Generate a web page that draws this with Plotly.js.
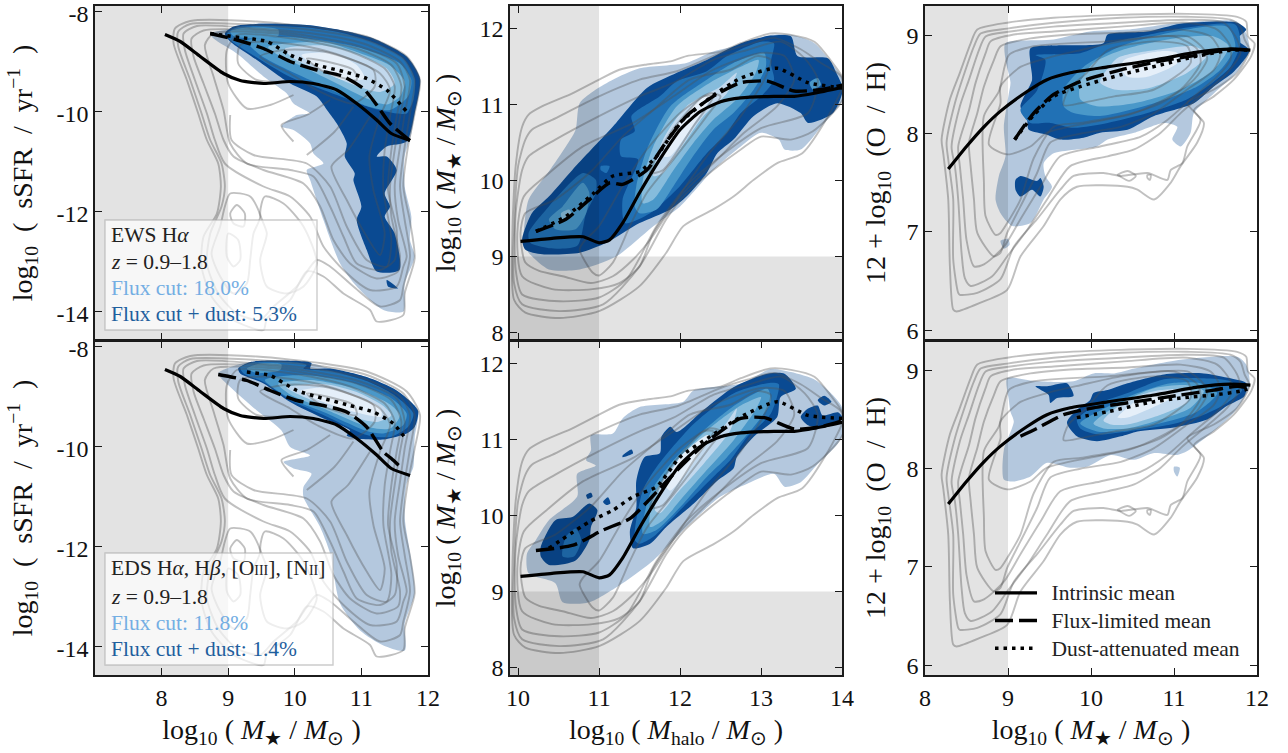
<!DOCTYPE html>
<html><head><meta charset="utf-8"><script src="https://cdn.plot.ly/plotly-3.0.1.min.js"></script>
<style>html,body{margin:0;padding:0;background:#fff}</style></head><body><div id="c"></div>
<script>
// ---------- gray intrinsic contours, sSFR vs stellar mass (flat x,y lists)
const gA1=[8.43,-8.2,8.2,-8.35,8.18,-8.65,8.38,-9.38,8.55,-10.05,8.68,-10.58,8.85,-11.05,8.89,-11.51,8.83,-12.05,8.63,-12.51,8.6,-13.11,8.75,-13.71,9.08,-14.18,9.53,-14.38,9.58,-14.15,9.93,-13.78,10.18,-13.21,10.43,-13.31,10.73,-13.65,11.13,-13.98,11.23,-14.21,11.63,-14.08,11.65,-13.65,11.8,-12.95,11.73,-12.21,11.63,-11.51,11.7,-10.71,11.8,-10.05,11.88,-9.38,11.68,-8.91,11.08,-8.51,10.43,-8.35,9.43,-8.21];
const gA2=[8.43,-8.26,8.25,-8.41,8.25,-8.71,8.43,-9.38,8.6,-10.05,8.73,-10.58,8.9,-11.05,8.95,-11.51,8.9,-11.91,8.73,-12.45,8.68,-13.05,8.85,-13.65,9.13,-14.05,9.48,-14.18,9.68,-13.91,10.03,-13.51,10.33,-12.98,10.53,-13.11,10.88,-13.51,11.28,-13.91,11.58,-13.78,11.63,-13.51,11.73,-12.91,11.65,-12.18,11.58,-11.51,11.65,-10.71,11.73,-10.05,11.8,-9.38,11.63,-8.95,11.08,-8.58,10.43,-8.41,9.43,-8.28];
const gA3=[8.53,-8.3,8.33,-8.45,8.35,-8.78,8.5,-9.38,8.68,-10.05,8.8,-10.58,8.95,-11.05,9.53,-11.51,9.93,-11.71,10.23,-12.11,10.43,-12.71,10.73,-13.18,11.13,-13.58,11.53,-13.51,11.63,-13.11,11.68,-12.91,11.55,-12.18,11.5,-11.51,11.58,-10.71,11.65,-10.05,11.73,-9.38,11.58,-9.01,11.03,-8.65,10.43,-8.48,9.43,-8.35];
const gA4=[8.63,-8.39,8.45,-8.55,8.48,-8.91,8.63,-9.45,8.8,-10.05,8.93,-10.58,9.08,-10.91,9.53,-11.18,10.13,-11.45,10.38,-11.91,10.58,-12.58,10.83,-13.05,11.23,-13.35,11.55,-13.21,11.58,-12.91,11.45,-12.11,11.43,-11.51,11.5,-10.78,11.58,-10.11,11.65,-9.51,11.53,-9.05,10.98,-8.71,10.43,-8.55,9.53,-8.39];
const gA5=[8.78,-8.45,8.65,-8.68,8.78,-9.31,8.93,-9.98,9.03,-10.65,9.28,-11.05,9.93,-11.18,10.28,-11.31,10.53,-11.91,10.73,-12.51,10.93,-13.05,11.28,-13.18,11.5,-12.98,11.53,-12.38,11.4,-11.58,11.45,-10.78,11.53,-10.11,11.6,-9.51,11.45,-9.08,10.93,-8.75,10.43,-8.61,9.73,-8.45];
const gA6=[9.03,-10.08,9.05,-10.58,9.38,-10.88,10.18,-11.05,10.53,-11.51,10.78,-12.31,11.08,-12.98,11.38,-13.11,11.45,-12.58,11.33,-11.58,11.35,-10.78,11.43,-10.11,11.5,-9.51,11.35,-9.15,10.83,-8.81,10.23,-8.61,9.53,-8.48,9.13,-8.48,8.98,-8.78,9.0,-9.45,9.28,-9.95,9.63,-9.88,9.98,-9.68];
const gA7=[9.98,-10.61,9.8,-10.28,10.18,-10.08,10.53,-9.78];
const gA8=[10.18,-10.88,10.6,-10.41,10.88,-9.91];
const gA9=[11.13,-10.11,10.8,-10.78,10.55,-11.11,10.78,-11.78,11.08,-12.51,11.28,-12.88,11.35,-12.45,11.18,-11.58,11.12,-10.91,11.28,-10.11,11.43,-9.58,11.28,-9.25,10.73,-8.91,10.18,-8.71,9.53,-8.61,9.18,-8.68,9.15,-9.05,9.43,-9.38,9.93,-9.41];
const gA10=[9.83,-8.78,10.43,-8.81,11.18,-9.18,11.2,-9.51,10.88,-9.85,10.33,-9.58,9.93,-9.25,9.48,-8.91];
const gA11=[10.18,-8.95,10.88,-9.18,10.93,-9.38,10.43,-9.21];
const iA1=[9.03,-11.65,9.33,-11.71,9.48,-12.11,9.38,-12.45,9.33,-12.98,9.28,-13.45,9.08,-13.65,8.88,-13.31,8.75,-12.85,8.88,-12.31,8.95,-11.91];
const iA2=[9.13,-11.88,9.25,-12.05,9.23,-12.31,9.08,-12.25,9.03,-12.05];
const iA3=[9.55,-11.71,9.83,-11.85,10.13,-12.31,10.33,-13.05,10.13,-13.51,9.88,-13.65,9.58,-13.51,9.48,-12.98,9.58,-12.45,9.48,-12.05];
const iA4=[9.0,-12.45,9.15,-12.58,9.18,-12.98,9.08,-13.11,8.98,-12.91];
// ---------- gray contours, stellar mass vs halo mass
const gB1=[10.13,10.87,10.3,10.98,10.67,11.15,11.0,11.33,11.25,11.46,11.59,11.53,11.88,11.57,12.08,11.64,12.5,11.7,12.75,11.81,13.12,11.94,13.37,11.92,13.66,11.83,13.87,11.57,14.01,11.35,14.01,11.24,13.83,10.85,13.51,10.36,13.2,10.23,12.91,10.01,12.66,9.79,12.41,9.62,12.04,9.4,11.83,9.05,11.5,8.61,11.0,8.28,10.51,8.19,10.09,8.26,9.95,8.43,9.93,9.31,9.97,10.19,10.05,10.71];
const gB2=[10.17,10.67,10.42,10.8,11.0,11.11,11.5,11.33,11.96,11.44,12.5,11.68,12.83,11.79,13.16,11.88,13.49,11.73,13.74,11.55,13.99,11.37,14.01,11.07,13.64,10.65,13.37,10.54,13.0,10.58,12.75,10.41,12.41,10.14,12.04,9.79,11.83,9.49,11.5,8.87,11.05,8.37,10.51,8.28,10.05,8.37,9.95,8.65,9.95,9.31,10.0,10.19,10.09,10.54];
const gB3=[10.13,10.32,10.46,10.54,11.0,10.85,11.5,11.11,11.92,11.29,12.41,11.59,12.83,11.72,13.24,11.83,13.54,11.61,13.7,11.33,13.58,10.89,13.0,10.69,12.5,10.32,12.08,9.93,11.71,9.4,11.34,8.7,11.0,8.46,10.51,8.41,10.05,8.5,9.97,8.83,9.97,9.57,10.05,10.14];
const gB4=[10.07,9.79,10.34,10.06,10.8,10.45,11.42,10.76,11.92,11.11,12.41,11.46,13.0,11.68,13.29,11.64,13.41,11.33,13.2,10.98,12.79,10.63,12.46,10.28,12.0,9.79,11.67,9.31,11.5,8.87,11.25,8.65,10.92,8.57,10.42,8.57,10.05,8.74,9.99,9.31];
const gB5=[10.09,9.57,10.46,9.75,10.92,10.14,11.29,10.58,11.67,10.93,12.12,11.33,12.62,11.46,12.95,11.64,13.12,11.59,13.04,11.33,12.75,10.85,12.33,10.32,11.96,9.75,11.63,9.22,11.42,8.96,11.17,8.74,10.9,8.65,10.55,8.74,10.26,8.81,10.09,8.92,10.03,9.31];
const gB6=[10.76,9.09,10.92,8.79,11.0,8.75,11.17,8.92,11.38,9.4,11.59,9.84,11.92,10.28,12.33,10.85,12.5,11.11,12.37,11.15,12.0,10.89,11.59,10.41,11.29,9.93,11.0,9.4,10.8,9.18];
const gB7=[11.63,10.1,11.88,10.63,12.29,11.11,12.41,11.11,12.16,10.71,11.79,10.14];
// ---------- gray contours, metallicity vs stellar mass
const gC1=[8.34,6.21,8.3,6.65,8.28,7.33,8.22,7.8,8.2,7.94,8.3,8.35,8.42,8.62,8.55,8.92,8.63,9.06,8.99,9.13,9.55,9.18,10.36,9.21,11.16,9.22,11.76,9.19,11.87,9.14,11.89,8.99,11.97,8.92,11.93,8.79,11.72,8.55,11.48,8.38,11.24,8.24,11.36,8.11,11.28,7.91,11.08,7.67,10.96,7.5,10.76,7.33,10.56,7.43,10.44,7.46,9.83,7.46,9.63,7.33,9.43,7.06,9.15,6.75,8.99,6.41,8.67,6.28,8.38,6.19];
const gC2=[8.4,6.38,8.34,6.72,8.34,7.33,8.28,7.74,8.26,7.91,8.36,8.31,8.46,8.58,8.59,8.89,8.67,9.02,8.99,9.07,9.55,9.13,10.36,9.18,11.16,9.19,11.68,9.16,11.8,9.09,11.85,8.96,11.91,8.85,11.76,8.62,11.48,8.45,11.16,8.31,11.32,8.14,11.16,7.87,11.1,7.7,10.96,7.63,10.92,7.53,10.68,7.6,10.36,7.57,10.15,7.6,9.79,7.57,9.63,7.43,9.35,7.13,9.07,6.85,8.91,6.52,8.63,6.38,8.42,6.36];
const gC3=[8.48,6.53,8.44,6.79,8.4,7.33,8.36,7.67,8.32,7.87,8.42,8.28,8.53,8.55,8.65,8.85,8.73,8.99,9.03,9.04,9.55,9.09,10.36,9.13,11.16,9.16,11.6,9.13,11.76,8.96,11.8,8.82,11.64,8.62,11.36,8.41,11.08,8.21,10.84,8.01,10.52,7.84,10.2,7.77,9.75,7.67,9.47,7.33,9.23,7.02,8.99,6.75,8.81,6.55,8.55,6.45];
const gC4=[8.59,6.65,8.5,6.92,8.46,7.33,8.42,7.67,8.4,7.87,8.53,8.24,8.61,8.52,8.73,8.82,8.79,8.94,9.07,9.01,9.55,9.04,10.36,9.09,11.16,9.13,11.52,9.06,11.68,8.89,11.68,8.75,11.52,8.58,11.24,8.38,10.92,8.14,10.6,7.97,10.11,7.87,9.63,7.77,9.39,7.46,9.15,7.13,8.95,6.85,8.71,6.67];
const gC5=[8.83,6.75,8.63,6.99,8.59,7.33,8.55,7.67,8.53,7.91,8.63,8.21,8.71,8.48,8.83,8.75,8.91,8.89,9.27,8.97,9.75,9.01,10.44,9.03,11.08,9.06,11.44,8.99,11.56,8.82,11.48,8.65,11.16,8.45,10.76,8.21,10.36,8.07,9.87,8.0,9.51,7.91,9.35,7.6,9.15,7.26,8.99,6.99,8.91,6.79];
const gC6=[8.85,6.97,8.73,7.16,8.71,7.5,8.71,8.18,8.89,8.43,9.01,8.8,9.31,8.89,10.2,8.94,11.16,8.99,11.36,8.86,11.4,8.76,11.24,8.55,10.84,8.31,10.36,8.18,9.87,8.11,9.55,8.07,9.31,7.75,9.15,7.33,8.99,7.09,8.91,6.99];
const gC7=[8.77,7.89,8.99,7.79,9.27,7.87,9.47,8.01,10.52,8.21,11.08,8.45,11.32,8.72,11.28,8.86,11.0,8.99,10.36,8.94,9.87,8.85,9.47,8.77,9.15,8.68,8.91,8.48,8.91,8.31];
const gC8=[10.2,8.85,10.76,8.94,11.16,8.89,11.2,8.72,10.76,8.45,10.28,8.38,9.87,8.31,9.67,8.29,9.73,8.45,9.95,8.62];
const gC9=[10.32,7.58,10.44,7.62,10.54,7.57,10.46,7.52,10.34,7.57];
const gC10=[10.68,7.58,10.72,7.58,10.71,7.53,10.68,7.55];
// ---------- blue density levels, panel a (EWS sSFR)
const aT0=[8.73,-8.45,8.98,-8.37,9.43,-8.25,10.18,-8.28,10.68,-8.38,11.18,-8.55,11.68,-8.91,11.88,-9.35,11.8,-10.05,11.75,-10.45,11.65,-10.91,11.65,-11.51,11.75,-12.11,11.73,-12.58,11.8,-12.91,11.65,-13.45,11.63,-14.01,11.33,-13.98,10.93,-13.51,10.68,-13.05,10.43,-12.18,10.23,-11.38,10.18,-11.18,10.43,-11.05,10.28,-10.85,10.23,-10.65,9.98,-10.38,9.8,-10.31,10.03,-10.08,10.23,-10.05,9.98,-9.85,9.88,-9.65,9.53,-9.31,9.13,-8.85,8.78,-8.55];
const aT1=[8.95,-8.45,9.08,-8.31,9.43,-8.26,10.18,-8.28,10.68,-8.38,11.18,-8.55,11.68,-8.91,11.88,-9.35,11.8,-10.05,11.68,-10.61,11.38,-10.71,11.23,-10.91,11.38,-10.91,11.53,-11.18,11.35,-11.65,11.43,-11.91,11.35,-12.11,11.5,-12.45,11.57,-13.18,11.23,-13.21,11.08,-12.78,10.93,-12.18,11.0,-11.91,10.88,-11.38,10.9,-11.25,10.75,-10.91,10.78,-10.65,10.63,-10.25,10.5,-10.01,10.33,-9.71,9.93,-9.45,9.43,-8.98,9.03,-8.61];
const aT1b=[11.38,-13.38,11.55,-13.55,11.4,-13.51];
const aT2=[8.98,-8.45,9.13,-8.33,9.63,-8.3,10.18,-8.33,10.68,-8.43,11.18,-8.63,11.63,-8.95,11.8,-9.35,11.78,-9.78,11.68,-10.05,11.53,-10.05,11.18,-9.95,10.83,-9.78,10.43,-9.58,9.93,-9.32,9.43,-8.93,9.03,-8.58];
const aT3=[9.28,-8.6,9.93,-8.52,10.93,-8.72,11.58,-9.05,11.75,-9.38,11.7,-9.71,11.43,-9.98,11.08,-9.9,10.43,-9.5,9.93,-9.2,9.48,-8.88];
const aT3b=[9.03,-8.41,9.28,-8.33,9.75,-8.37,9.75,-8.5,9.38,-8.55,9.08,-8.5];
const aT4=[9.6,-8.72,10.43,-8.62,10.93,-8.82,11.43,-9.09,11.65,-9.41,11.58,-9.71,11.38,-9.87,11.08,-9.75,10.63,-9.45,10.13,-9.12,9.75,-8.88];
const aT5=[9.85,-8.76,10.43,-8.69,10.93,-8.86,11.38,-9.15,11.5,-9.45,11.28,-9.62,10.93,-9.5,10.43,-9.22,9.98,-8.95];
const aT6=[10.1,-8.88,10.53,-8.84,10.93,-9.08,11.05,-9.35,10.73,-9.38,10.4,-9.18];
// ---------- panel d (EDS sSFR)
const dT0=[8.85,-8.55,9.15,-8.37,9.53,-8.29,10.23,-8.34,10.53,-8.45,11.08,-8.62,11.53,-8.89,11.85,-9.29,11.8,-9.82,11.78,-10.42,11.68,-10.75,11.65,-11.42,11.75,-12.29,11.8,-12.95,11.65,-13.55,11.65,-14.09,11.33,-13.99,10.98,-13.69,10.68,-13.15,10.53,-12.15,10.38,-11.62,10.13,-11.02,10.13,-10.82,10.25,-10.55,9.98,-10.45,9.83,-10.32,10.23,-10.19,9.93,-10.02,9.8,-9.69,9.43,-9.29,9.03,-8.82];
const dT1=[9.15,-8.45,9.33,-8.32,9.73,-8.29,10.25,-8.34,10.23,-8.45,10.53,-8.45,11.08,-8.62,11.53,-8.89,11.85,-9.29,11.8,-9.62,11.68,-9.75,11.33,-9.87,10.93,-9.85,10.78,-9.79,10.83,-9.69,10.43,-9.45,9.93,-9.12,9.53,-8.75,9.18,-8.55];
const dT2=[9.18,-8.43,9.38,-8.33,10.03,-8.33,10.18,-8.38,10.13,-8.45,10.53,-8.5,11.08,-8.7,11.48,-8.97,11.78,-9.35,11.7,-9.62,11.43,-9.82,11.08,-9.78,10.43,-9.38,9.93,-9.08,9.53,-8.72,9.23,-8.55];
const dT3=[9.55,-8.68,10.13,-8.58,10.83,-8.72,11.43,-9.03,11.68,-9.35,11.63,-9.58,11.33,-9.75,11.08,-9.7,10.43,-9.32,9.93,-9.05];
const dT3b=[9.28,-8.45,9.48,-8.35,9.8,-8.37,9.78,-8.48,9.43,-8.54];
const dT4=[9.75,-8.76,10.23,-8.68,10.93,-8.86,11.43,-9.17,11.58,-9.39,11.43,-9.65,11.13,-9.63,10.43,-9.25,9.93,-8.97];
const dT5=[9.88,-8.83,10.43,-8.76,10.93,-8.92,11.33,-9.2,11.45,-9.39,11.23,-9.52,10.83,-9.4,10.33,-9.13];
const dT6=[10.08,-8.9,10.43,-8.83,10.88,-8.97,11.28,-9.23,11.3,-9.41,10.93,-9.33,10.43,-9.12];
// ---------- panel b (EWS stellar-halo)
const bT0=[10.07,9.31,10.13,9.75,10.38,10.12,10.59,10.45,10.71,10.67,10.76,11.02,10.96,11.2,11.17,11.33,11.5,11.48,12.08,11.55,12.41,11.7,12.83,11.81,13.12,11.92,13.37,11.92,13.66,11.81,13.87,11.55,14.01,11.33,14.01,11.07,13.78,10.76,13.49,10.41,13.29,10.41,13.22,10.54,13.0,10.63,12.75,10.45,12.41,10.14,12.0,9.66,11.67,9.4,11.21,9.0,10.76,8.83,10.38,8.83,10.13,9.05,10.07,9.18];
const bT1=[10.05,9.22,10.17,9.57,10.38,9.79,10.67,10.14,11.02,10.54,11.21,10.76,11.59,11.22,11.96,11.42,12.33,11.59,12.75,11.81,13.12,11.91,13.37,11.9,13.45,11.64,13.83,11.61,13.93,11.42,14.01,11.2,13.89,10.89,13.58,10.76,13.49,10.89,13.2,11.02,12.91,10.85,12.66,10.54,12.46,10.36,12.33,10.1,12.08,9.79,11.88,9.62,11.5,9.44,11.09,9.18,10.76,9.05,10.3,9.03,10.09,9.09];
const bT2a=[10.13,9.31,10.38,9.66,10.8,10.1,10.96,10.01,10.96,9.84,10.84,9.57,10.73,9.14,10.38,9.11,10.15,9.18];
const bT2b=[11.4,10.85,11.75,11.11,11.96,11.31,12.33,11.44,12.58,11.64,13.0,11.83,13.16,11.81,13.12,11.55,13.16,11.33,13.0,11.11,12.75,10.89,12.58,10.63,12.33,10.36,12.0,9.93,11.63,9.57,11.32,9.44,11.29,9.75,11.48,10.28,11.27,10.32,11.27,10.54,11.44,10.65];
const bT2c=[11.02,10.19,11.13,10.19,11.09,10.1,11.02,10.14];
const bT3a=[10.38,9.49,10.55,9.66,10.8,9.97,10.88,9.84,10.84,9.57,10.71,9.36,10.46,9.36];
const bT3b=[11.44,9.66,11.46,9.93,11.59,10.41,11.88,10.98,12.33,11.33,12.66,11.55,13.04,11.68,13.06,11.5,12.91,11.2,12.66,10.89,12.41,10.67,12.16,10.32,11.92,9.93,11.71,9.62,11.5,9.57];
const bT3c=[13.6,11.29,13.7,11.35,13.74,11.26,13.64,11.2];
const bT4a=[10.53,9.57,10.63,9.62,10.67,9.53,10.55,9.49];
const bT4=[11.54,9.7,11.54,10.0,11.67,10.45,11.96,10.98,12.37,11.29,12.75,11.5,12.97,11.59,12.93,11.41,12.7,11.07,12.41,10.8,12.16,10.49,11.92,10.14,11.67,9.75];
const bT5=[11.67,10.06,11.79,10.54,12.08,10.98,12.5,11.24,12.7,11.42,12.58,11.15,12.29,10.85,12.0,10.41,11.79,10.1];
const bT6=[11.79,10.32,11.96,10.71,12.25,11.07,12.41,11.15,12.29,10.93,12.04,10.54,11.88,10.32];
// ---------- panel e (EDS stellar-halo)
const eT0=[10.11,9.5,10.22,9.68,10.38,9.94,10.73,10.25,10.73,10.55,10.96,10.66,10.84,10.73,10.9,10.86,10.9,11.06,11.17,11.08,11.29,11.28,11.5,11.43,12.04,11.5,12.17,11.65,12.75,11.74,13.12,11.93,13.37,11.89,13.68,11.78,13.99,11.45,14.03,11.12,13.95,10.95,13.7,10.68,13.49,10.44,13.29,10.38,13.16,10.55,12.83,10.42,12.5,10.25,12.08,9.85,11.67,9.41,11.29,9.11,10.88,8.86,10.55,8.86,10.46,9.11,10.13,9.24];
const eT1=[11.38,9.79,11.46,10.11,11.46,10.46,11.56,10.77,11.75,10.82,11.77,11.04,11.88,11.17,11.96,11.1,12.29,11.39,12.66,11.69,13.08,11.87,13.29,11.87,13.43,11.67,13.24,11.56,13.2,11.3,12.91,11.04,12.7,10.77,12.66,10.62,12.46,10.46,12.17,10.16,11.83,9.85,11.63,9.63,11.42,9.57];
const eT1b=[10.28,9.59,10.46,9.94,10.67,9.98,10.88,10.16,10.98,10.07,10.9,9.85,10.88,9.68,10.71,9.41,10.38,9.35,10.28,9.46];
const eT1c=[13.49,11.3,13.58,11.41,13.7,11.45,13.76,11.32,13.95,11.36,14.01,11.28,13.7,11.17,13.58,11.19];
const eT1d=[13.7,11.52,13.78,11.58,13.87,11.5,13.78,11.45];
const eT1e=[10.84,10.27,10.9,10.3,10.92,10.25,10.86,10.22];
const eT1f=[11.05,10.18,11.11,10.24,11.14,10.16,11.09,10.14];
const eT1g=[11.29,10.79,11.4,10.87,11.42,10.82,11.29,10.77];
const eT2=[11.44,9.68,11.54,10.33,11.71,10.64,12.17,11.21,12.66,11.61,13.12,11.75,13.22,11.73,13.12,11.34,12.83,11.04,12.62,10.73,12.41,10.51,12.08,10.16,11.67,9.72,11.5,9.63];
const eT2b=[10.55,9.46,10.59,9.72,10.71,9.83,10.78,9.68,10.69,9.46];
const eT3=[11.54,9.76,11.63,10.29,11.88,10.68,12.29,11.12,12.7,11.47,13.08,11.67,13.12,11.5,12.91,11.17,12.58,10.77,12.33,10.51,12.0,10.11,11.71,9.81];
const eT4=[11.63,9.85,11.67,10.25,11.92,10.68,12.33,11.12,12.75,11.45,13.0,11.56,12.93,11.39,12.66,10.99,12.33,10.6,12.04,10.25,11.79,9.94];
const eT5=[11.69,10.07,11.79,10.46,12.08,10.82,12.5,11.12,12.7,11.41,12.62,11.12,12.29,10.68,11.96,10.29,11.75,10.03];
const eT6=[11.83,10.38,12.0,10.77,12.33,11.06,12.37,11.04,12.21,10.77,12.0,10.46,11.88,10.33];
// ---------- panel c (EWS metallicity)
const cT0=[8.97,8.92,9.55,8.96,9.99,9.04,10.44,9.06,11.08,9.13,11.76,9.14,11.87,9.02,11.91,8.85,11.76,8.63,11.48,8.41,11.24,8.21,11.2,8.01,11.08,7.87,10.98,7.94,11.04,8.07,10.88,8.11,10.52,8.01,10.2,7.94,10.07,7.87,9.55,7.8,9.43,7.7,9.45,7.57,9.53,7.46,9.43,7.33,9.27,7.09,9.05,7.06,8.91,7.19,8.85,7.33,8.89,7.57,8.97,7.77,8.95,8.07,9.01,8.41,9.03,8.52,8.97,8.75];
const cT0b=[8.91,6.91,9.0,6.93,9.02,6.87,8.95,6.83];
const cT1=[9.27,8.87,9.63,8.9,10.15,8.92,10.2,9.01,10.68,9.04,11.08,9.12,11.76,9.13,11.87,9.06,11.76,8.96,11.91,8.85,11.72,8.63,11.48,8.48,11.24,8.31,10.76,8.18,10.44,8.04,10.11,8.01,9.91,7.96,9.63,7.94,9.47,7.99,9.25,8.04,9.23,8.14,9.15,8.28,9.29,8.55,9.27,8.72];
const cT1b=[9.09,7.53,9.15,7.57,9.35,7.52,9.39,7.55,9.43,7.46,9.39,7.36,9.29,7.43,9.15,7.36,9.09,7.43];
const cT2=[9.33,8.8,9.87,8.82,10.2,8.92,10.6,8.99,11.16,9.08,11.74,9.11,11.8,8.92,11.68,8.68,11.4,8.48,11.16,8.35,10.68,8.21,10.2,8.11,9.79,8.06,9.51,8.11,9.27,8.11,9.15,8.24,9.35,8.44,9.45,8.75];
const cT3=[9.91,8.68,10.36,8.89,10.96,9.03,11.64,9.09,11.74,8.89,11.56,8.65,11.28,8.48,10.76,8.31,10.11,8.18,9.79,8.21,9.67,8.28,9.67,8.45];
const cT4=[10.03,8.72,10.4,8.86,11.0,8.97,11.48,8.99,11.66,8.89,11.48,8.65,11.08,8.45,10.52,8.31,10.07,8.28,9.87,8.35,9.87,8.52];
const cT5=[10.32,8.77,10.76,8.85,11.24,8.89,11.4,8.8,11.16,8.62,10.68,8.46,10.28,8.45,10.11,8.52];
const cT6=[10.4,8.75,10.84,8.84,11.04,8.82,11.04,8.72,10.68,8.58,10.44,8.58,10.36,8.67];
// ---------- panel f (EDS metallicity)
const fT0=[8.99,8.92,9.35,8.89,9.79,8.89,10.03,8.97,10.28,8.97,10.52,9.02,11.08,9.11,11.76,9.14,11.87,9.06,11.91,8.84,11.72,8.57,11.4,8.33,11.16,8.18,11.04,8.14,10.76,8.16,10.52,8.09,10.24,8.14,9.95,8.02,9.75,8.01,9.47,8.06,9.27,7.92,9.07,7.87,8.95,7.89,8.95,8.19,9.07,8.48,9.03,8.58,9.01,8.7];
const fT0b=[11.0,8.02,11.07,8.01,11.04,7.92,11.0,7.97];
const fT1=[10.03,8.77,10.2,8.8,10.44,8.87,10.88,8.96,11.36,8.97,11.68,8.92,11.87,8.87,11.85,8.74,11.64,8.64,11.4,8.5,11.0,8.42,10.56,8.38,10.36,8.33,10.07,8.28,9.83,8.33,9.71,8.47,9.83,8.6,9.99,8.7];
const fT1b=[9.33,8.84,9.47,8.84,9.71,8.87,9.79,8.74,9.59,8.72,9.51,8.67,9.49,8.75];
const fT2=[9.83,8.5,10.11,8.67,10.44,8.77,10.88,8.91,11.36,8.92,11.68,8.89,11.82,8.8,11.64,8.67,11.36,8.55,10.96,8.45,10.44,8.38,10.07,8.35,9.87,8.41];
const fT3=[9.87,8.46,10.2,8.63,10.56,8.77,10.96,8.87,11.32,8.87,11.52,8.77,11.28,8.58,10.92,8.48,10.44,8.39,10.07,8.38];
const fT4=[10.03,8.46,10.36,8.67,10.76,8.82,11.16,8.85,11.36,8.79,11.2,8.62,10.84,8.5,10.44,8.41,10.15,8.41];
const fT5=[10.15,8.49,10.44,8.7,10.84,8.8,11.2,8.8,11.16,8.68,10.84,8.55,10.44,8.45,10.24,8.45];
const fT6=[10.32,8.52,10.6,8.72,10.96,8.79,11.0,8.74,10.76,8.63,10.44,8.52];
// ---------- mean relations
const meanA=[8.05,-8.47,8.28,-8.61,8.58,-8.91,8.93,-9.25,9.18,-9.39,9.53,-9.45,9.93,-9.41,10.28,-9.45,10.63,-9.58,10.93,-9.85,11.23,-10.18,11.45,-10.45,11.73,-10.59];
const fluxA1=[8.73,-8.45,9.13,-8.58,9.53,-8.75,9.93,-9.01,10.33,-9.18,10.73,-9.31,11.03,-9.55,11.23,-9.88,11.43,-10.25,11.73,-10.59];
const dustA1=[8.73,-8.45,9.18,-8.53,9.58,-8.61,9.93,-8.88,10.33,-9.08,10.73,-9.21,11.08,-9.35,11.38,-9.58,11.68,-10.01];
const fluxA2=[8.85,-8.57,9.28,-8.69,9.63,-8.89,10.03,-9.09,10.43,-9.19,10.78,-9.32,11.08,-9.62,11.33,-10.12,11.45,-10.25,11.58,-10.41];
const dustA2=[9.28,-8.52,9.63,-8.59,10.03,-8.89,10.43,-9.05,10.83,-9.19,11.18,-9.32,11.48,-9.55,11.65,-9.83];
const meanB=[10.03,9.2,10.42,9.24,10.8,9.26,11.0,9.18,11.13,9.22,11.29,9.44,11.5,9.84,11.75,10.28,12.0,10.67,12.25,10.91,12.5,11.04,12.75,11.09,13.16,11.11,13.41,11.11,13.66,11.15,14.01,11.23];
const fluxB1=[10.22,9.33,10.59,9.49,10.88,9.75,11.13,9.97,11.29,9.95,11.59,10.14,11.79,10.45,12.08,10.85,12.41,11.11,12.75,11.29,13.08,11.31,13.41,11.18,13.74,11.2,14.01,11.26];
const dustB1=[10.22,9.33,10.59,9.53,10.92,9.82,11.17,10.06,11.5,10.12,11.71,10.32,12.0,10.76,12.37,11.09,12.75,11.35,13.2,11.48,13.58,11.29,14.01,11.22];
const fluxB2=[10.22,9.54,10.68,9.61,11.05,9.81,11.38,9.96,11.63,10.22,11.92,10.55,12.33,10.97,12.75,11.28,13.04,11.29,13.41,11.14,13.74,11.17,14.01,11.25];
const dustB2=[10.38,9.57,10.88,9.92,11.17,10.07,11.42,10.25,11.71,10.38,12.0,10.77,12.37,11.04,12.75,11.3,13.2,11.5,13.58,11.32,14.01,11.28];
const meanC=[8.28,7.64,8.5,7.87,8.71,8.07,8.91,8.23,9.23,8.43,9.47,8.55,9.75,8.62,10.2,8.68,10.76,8.75,11.28,8.83,11.68,8.86,11.92,8.85];
const fluxC1=[9.08,7.94,9.31,8.21,9.55,8.4,9.87,8.53,10.36,8.65,10.84,8.74,11.28,8.8,11.68,8.86,11.92,8.85];
const dustC1=[9.08,7.94,9.31,8.19,9.55,8.38,9.87,8.48,10.36,8.6,10.84,8.7,11.28,8.79,11.68,8.85,11.92,8.85];
const fluxC2=[9.15,8.33,9.35,8.41,9.67,8.55,10.03,8.62,10.52,8.68,11.08,8.75,11.48,8.8,11.76,8.84,11.92,8.82];
const dustC2=[9.83,8.52,10.2,8.58,10.68,8.67,11.08,8.72,11.48,8.75,11.8,8.79,11.92,8.82];
// ---------- ticks, labels, cuts
const ssfrTicks=[-8,-10,-12,-14], ssfrLabels=['-8','-10','-12','-14'];
const starTicks=[8,9,10,11,12], haloTicks=[10,11,12,13,14], metTicks=[8,9,10,11,12];
const massCut=9, haloCut=11, smCut=9;
const labelsTop=['EWS H<i>α</i>','<i>z</i> = 0.9–1.8','Flux cut: 18.0%','Flux cut + dust: 5.3%'];
const labelsBot=['EDS H<i>α</i>, H<i>β</i>, [O<span style="font-size:14px">III</span>], [N<span style="font-size:14px">II</span>]','<i>z</i> = 0.9–1.8','Flux cut: 11.8%','Flux cut + dust: 1.4%'];
const legendNames=['Intrinsic mean','Flux-limited mean','Dust-attenuated mean'];

// ---------- styles
const W=1288,H=753,FONT='"Liberation Serif",serif';
const PALE='rgba(8,72,145,0.3)',C1='#0a4a92',C2='#2171b5',C3='#4a98c9',C4='#86bcdc',C5='#c2d9ee',C6='#e5eff9';
const GREY='rgba(80,80,80,0.36)',FRAME='#1c1c1c';
const pts=a=>{const x=[],y=[];for(let i=0;i<a.length;i+=2){x.push(a[i]);y.push(a[i+1]);}return {x,y};};
const closed=a=>a.concat([a[0],a[1]]);
const massIsl=[iA1,iA2,iA3,iA4].map(closed);
const greyA=[gA1,gA2,gA3,gA4,gA5,gA10,gA11].map(closed).concat([gA6,gA7,gA8,gA9],massIsl);
const greyB=[gB1,gB2,gB3,gB4,gB5,gB6,gB7].map(closed);
const greyC=[gC1,gC2,gC3,gC4,gC5,gC6,gC7,gC8,gC9,gC10].map(closed);
const panels=[
 {n:'',fills:[[aT0,PALE],[aT1,C1],[aT1b,C1],[aT2,C2],[aT3,C3],[aT3b,C3],[aT4,C4],[aT5,C5],[aT6,C6]],grey:greyA,m:meanA,f:fluxA1,d:dustA1},
 {n:'2',fills:[[bT0,PALE],[bT1,C1],[bT2a,C2],[bT2b,C2],[bT2c,C2],[bT3a,C3],[bT3b,C3],[bT3c,C3],[bT4a,C4],[bT4,C4],[bT5,C5],[bT6,C6]],grey:greyB,m:meanB,f:fluxB1,d:dustB1},
 {n:'3',fills:[[cT0,PALE],[cT0b,PALE],[cT1,C1],[cT1b,C1],[cT2,C2],[cT3,C3],[cT4,C4],[cT5,C5],[cT6,C6]],grey:greyC,m:meanC,f:fluxC1,d:dustC1},
 {n:'4',fills:[[dT0,PALE],[dT1,C1],[dT2,C2],[dT3,C3],[dT3b,C3],[dT4,C4],[dT5,C5],[dT6,C6]],grey:greyA,m:meanA,f:fluxA2,d:dustA2},
 {n:'5',fills:[[eT0,PALE],[eT1,C1],[eT1b,C1],[eT1c,C1],[eT1d,C1],[eT1e,C1],[eT1f,C1],[eT1g,C1],[eT2,C2],[eT2b,C2],[eT3,C3],[eT4,C4],[eT5,C5],[eT6,C6]],grey:greyB,m:meanB,f:fluxB2,d:dustB2},
 {n:'6',fills:[[fT0,PALE],[fT0b,PALE],[fT1,C1],[fT1b,C1],[fT2,C2],[fT3,C3],[fT4,C4],[fT5,C5],[fT6,C6]],grey:greyC,m:meanC,f:fluxC2,d:dustC2,legend:true}
];
const legendLabel=t=>'\u00a0\u00a0<span style="font-size:21.5px">'+t+'</span>';
const traces=[];
panels.forEach(p=>{
  const xa='x'+p.n,ya='y'+p.n;
  p.fills.forEach(([a,c])=>traces.push({...pts(closed(a)),xaxis:xa,yaxis:ya,mode:'lines',fill:'toself',fillcolor:c,line:{width:0,shape:'spline',smoothing:0.7},hoverinfo:'skip',showlegend:false}));
  p.grey.forEach(a=>traces.push({...pts(a),xaxis:xa,yaxis:ya,mode:'lines',line:{color:GREY,width:1.9,shape:'spline',smoothing:0.7},hoverinfo:'skip',showlegend:false}));
  [[p.m,'solid',3.2],[p.f,'18px,6px',3.4],[p.d,'3.5px,5px',3.5]].forEach(([a,dash,w],i)=>traces.push({...pts(a),xaxis:xa,yaxis:ya,mode:'lines',name:legendLabel(legendNames[i]),line:{color:'#000',width:w,dash,shape:'spline',smoothing:0.6},hoverinfo:'skip',showlegend:!!p.legend}));
});
const colPx=[[95,428],[510,842],[925,1257]],rowPx=[[6,340],[341,675]];
const dx=c=>[colPx[c][0]/W,colPx[c][1]/W],dy=r=>[1-rowPx[r][1]/H,1-rowPx[r][0]/H];
const MSTAR='log<sub>10</sub> ( <i>M</i><sub>★</sub> / <i>M</i><sub>⊙</sub> )',MHALO='log<sub>10</sub> ( <i>M</i><sub>halo</sub> / <i>M</i><sub>⊙</sub> )';
const YT=['log<sub>10</sub>\u00a0 (\u00a0 sSFR\u00a0 /\u00a0 yr<sup>−1</sup>\u00a0 )','log<sub>10</sub> ( <i>M</i><sub>★</sub> / <i>M</i><sub>⊙</sub> )','12 + log<sub>10</sub>\u00a0 (O\u00a0 /\u00a0 H)'];
const YSTAND=[16,16,13];
const base={showline:true,mirror:'allticks',linecolor:FRAME,linewidth:1.5,ticks:'inside',ticklen:7,tickwidth:1.3,tickcolor:FRAME,showgrid:false,zeroline:false,ticklabeloverflow:'allow',tickfont:{family:FONT,size:24,color:'#111'},layer:'above traces'};
const xr=[[7,12],[9.9,14],[8,12]],yr=[[-14.58,-7.9],[7.9,12.3],[5.9,9.3]];
const layout={width:W,height:H,margin:{l:0,r:0,t:0,b:0},paper_bgcolor:'#fff',plot_bgcolor:'#fff',font:{family:FONT,color:'#111'},
 showlegend:true,legend:{x:990/W,y:1-574/H,xanchor:'left',yanchor:'top',bgcolor:'rgba(0,0,0,0)',font:{family:FONT,size:19,color:'#222'},itemwidth:42,tracegroupgap:0},shapes:[],annotations:[]};
const xt=[[ [8,10,12],haloTicks.filter(v=>v%2===0),metTicks ],[starTicks,haloTicks,metTicks]];
[0,1].forEach(r=>[0,1,2].forEach(c=>{
  const idx=r*3+c+1,s=idx===1?'':idx;
  layout['xaxis'+s]={...base,domain:dx(c),range:xr[c],anchor:'y'+s,tickvals:xt[r][c],ticktext:xt[r][c].map(String),showticklabels:r===1,
    ...(r===1?{title:{text:c===1?MHALO:MSTAR,font:{family:FONT,size:28,color:'#111'},standoff:10}}:{})};
  const yt=c===0?ssfrTicks:(c===1?[8,9,10,11,12]:[6,7,8,9]);
  layout['yaxis'+s]={...base,domain:dy(r),range:yr[c],anchor:'x'+s,tickvals:yt,ticktext:c===0?ssfrLabels:yt.map(String),ticklabelshift:c===0?3:0,
    title:{text:YT[c],font:{family:FONT,size:28,color:'#111'},standoff:YSTAND[c]}};
  const sh=(o)=>layout.shapes.push({type:'rect',layer:'above',line:{width:0},fillcolor:'rgba(0,0,0,0.11)',...o});
  const cut=c===1?haloCut:(c===0?massCut:smCut);
  sh({xref:'x'+s,yref:'y'+s+' domain',x0:xr[c][0],x1:cut,y0:0,y1:1});
  if(c===1) sh({xref:'x'+s+' domain',yref:'y'+s,x0:0,x1:1,y0:yr[1][0],y1:massCut});
}));
const box=(x0,y0,x1,y1)=>layout.shapes.push({type:'rect',layer:'above',xref:'paper',yref:'paper',x0:x0/W,x1:x1/W,y0:1-y0/H,y1:1-y1/H,fillcolor:'rgba(255,255,255,0.72)',line:{color:'rgba(170,170,170,0.6)',width:1.4}});
box(105,220,317,330);box(105,553,333,665);
const note=(t,py,col)=>layout.annotations.push({text:t,xref:'paper',yref:'paper',x:109/W,y:1-py/H,xanchor:'left',yanchor:'middle',showarrow:false,font:{family:FONT,size:21.5,color:col}});
const tcols=['#222','#222','#74aee3','#1f5f9e'];
labelsTop.forEach((t,i)=>note(t,[235,262,288,314][i],tcols[i]));
labelsBot.forEach((t,i)=>note(t,[568,597,623,649][i],tcols[i]));
Plotly.newPlot('c',traces,layout,{displayModeBar:false});
</script></body></html>
